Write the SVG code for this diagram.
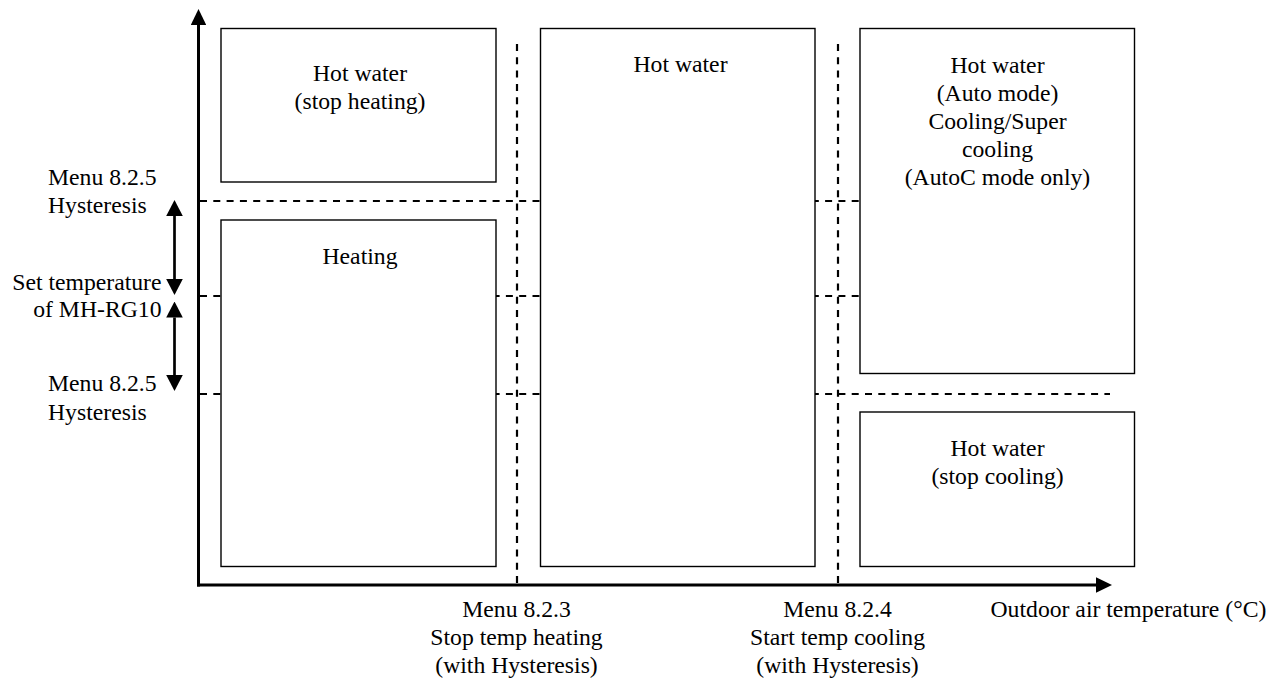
<svg xmlns="http://www.w3.org/2000/svg" width="1277" height="682" viewBox="0 0 1277 682">
<style>
text{font-family:"Liberation Serif","Times New Roman",serif;font-size:23.7px;fill:#000}
.c{text-anchor:middle}
.e{text-anchor:end}
.box{fill:#fff;stroke:#000;stroke-width:1.4}
.dash{fill:none;stroke:#000;stroke-width:2.2;stroke-dasharray:7 6.3}
.axis{fill:none;stroke:#000;stroke-width:3}
.dbl{fill:none;stroke:#000;stroke-width:2.7}
</style>
<defs>
<marker id="ah" viewBox="0 0 16 15.4" refX="0" refY="7.7" markerWidth="16" markerHeight="15.4" markerUnits="userSpaceOnUse" orient="auto-start-reverse">
<path d="M0,0 L16,7.7 L0,15.4 z" fill="#000"/>
</marker>
<marker id="ah2" viewBox="0 0 16 16.6" refX="0" refY="8.3" markerWidth="16" markerHeight="16.6" markerUnits="userSpaceOnUse" orient="auto-start-reverse">
<path d="M0,0 L16,8.3 L0,16.6 z" fill="#000"/>
</marker>
</defs>
<rect width="1277" height="682" fill="#fff"/>
<g id="connectors">
<line class="dash" x1="200" y1="201" x2="860" y2="201"/>
<line class="dash" x1="200" y1="296" x2="860" y2="296"/>
<line class="dash" x1="200" y1="394" x2="1110" y2="394"/>
<line class="dash" x1="517" y1="44" x2="517" y2="585"/>
<line class="dash" x1="838" y1="44" x2="838" y2="585"/>
<line class="axis" x1="198.5" y1="586.5" x2="198.5" y2="25" marker-end="url(#ah)"/>
<line class="axis" x1="197" y1="585" x2="1096" y2="585" marker-end="url(#ah)"/>
<line class="dbl" x1="174.5" y1="216" x2="174.5" y2="279" marker-start="url(#ah2)" marker-end="url(#ah2)"/>
<line class="dbl" x1="174.5" y1="317.5" x2="174.5" y2="375" marker-start="url(#ah2)" marker-end="url(#ah2)"/>
</g>
<g id="box-hotwater-stop-heating">
<rect class="box" x="221" y="28.5" width="275" height="153.5"/>
<text class="c" x="360" y="80.7">Hot water</text>
<text class="c" x="360" y="108.7">(stop heating)</text>
</g>
<g id="box-heating">
<rect class="box" x="221" y="220" width="275" height="346.5"/>
<text class="c" x="360" y="264">Heating</text>
</g>
<g id="box-hotwater-middle">
<rect class="box" x="540.5" y="28.5" width="274.5" height="538"/>
<text class="c" x="680.5" y="72.3">Hot water</text>
</g>
<g id="box-hotwater-cooling">
<rect class="box" x="860" y="28.5" width="274.5" height="345"/>
<text class="c" x="997.5" y="73">Hot water</text>
<text class="c" x="997.5" y="101">(Auto mode)</text>
<text class="c" x="997.5" y="129">Cooling/Super</text>
<text class="c" x="997.5" y="157">cooling</text>
<text class="c" x="997.5" y="185">(AutoC mode only)</text>
</g>
<g id="box-hotwater-stop-cooling">
<rect class="box" x="860" y="412" width="274.5" height="154.5"/>
<text class="c" x="997.5" y="456">Hot water</text>
<text class="c" x="997.5" y="484">(stop cooling)</text>
</g>
<g id="label-hysteresis-upper">
<text x="48" y="184.5">Menu 8.2.5</text>
<text x="48" y="213">Hysteresis</text>
</g>
<g id="label-set-temperature">
<text class="e" x="161.5" y="290">Set temperature</text>
<text class="e" x="161.5" y="317">of MH-RG10</text>
</g>
<g id="label-hysteresis-lower">
<text x="48" y="390.5">Menu 8.2.5</text>
<text x="48" y="419.5">Hysteresis</text>
</g>
<g id="label-stop-heating">
<text class="c" x="516.5" y="617">Menu 8.2.3</text>
<text class="c" x="516.5" y="645">Stop temp heating</text>
<text class="c" x="516.5" y="673">(with Hysteresis)</text>
</g>
<g id="label-start-cooling">
<text class="c" x="837.5" y="617">Menu 8.2.4</text>
<text class="c" x="837.5" y="645">Start temp cooling</text>
<text class="c" x="837.5" y="673">(with Hysteresis)</text>
</g>
<g id="label-x-axis">
<text x="990.5" y="617">Outdoor air temperature (°C)</text>
</g>
</svg>
